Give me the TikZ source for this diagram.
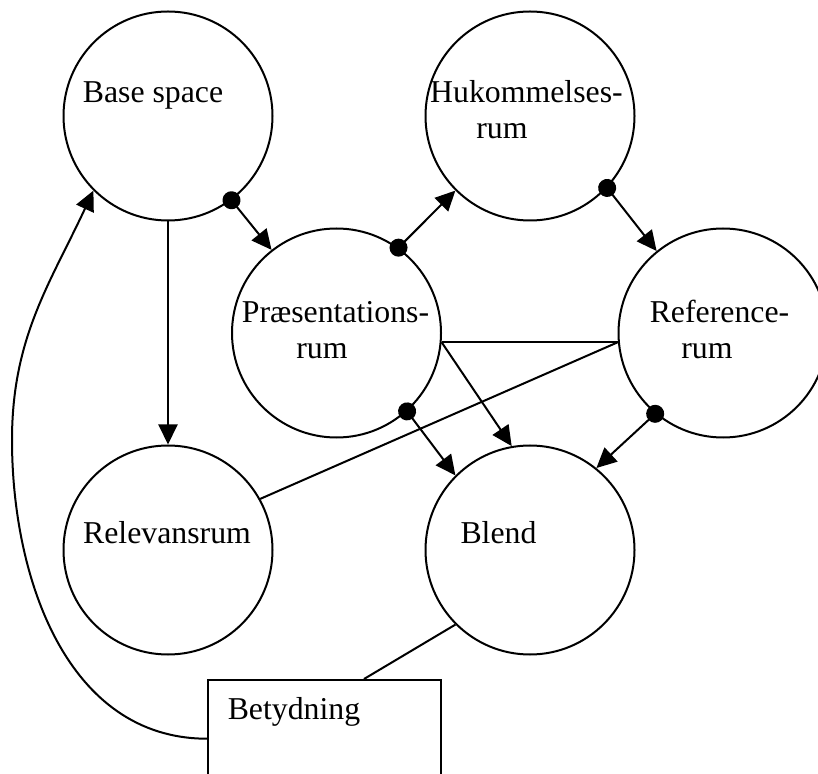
\documentclass[tikz,border=0pt]{standalone}
\usepackage{fontspec}
\setmainfont{Liberation Serif}
\usetikzlibrary{arrows.meta, positioning}

\begin{document}
\begin{tikzpicture}[
    x=0.5pt, y=-0.5pt,
    every node/.style={font=\fontsize{15.9}{18}\selectfont},
    space/.style={circle, draw, line width=1pt, minimum size=104.5pt, inner sep=0pt},
    txt/.style={align=center, inner sep=0pt},
    meaningbox/.style={rectangle, draw, line width=1pt, minimum width=116.5pt, minimum height=58.7pt, inner sep=0pt},
    arrow/.style={-{Triangle[length=10pt, width=9.5pt]}, line width=1pt},
    dotarrow/.style={{Circle[length=9pt]}-{Triangle[length=10pt, width=9.5pt]}, shorten <=-4.5pt, line width=1pt},
    plain/.style={line width=1pt}
]
\useasboundingbox (0,0) rectangle (818,774);
\clip (0,0) rectangle (818,774);

% mental spaces
\node[space] (base) at (168,116) {};
\node[space] (huk) at (530,116) {};
\node[space] (praes) at (336.5,333) {};
\node[space] (ref) at (723,333) {};
\node[space] (rel) at (168,550) {};
\node[space] (blend) at (530,550) {};
\node[meaningbox] (bet) at (324.5,738.7) {};

\node[txt] (base-txt) at ([shift={(-15,-21)}]base.center) {Base space};
\node[txt] (huk-txt) at ([shift={(-3.5,-6.5)}]huk.center) {Hukommelses-\\rum\hspace*{24.5pt}\mbox{}};
\node[txt] (praes-txt) at ([shift={(-1,-2.5)}]praes.center) {Præsentations-\\rum\hspace*{13.5pt}\mbox{}};
\node[txt] (ref-txt) at ([shift={(-3.5,-4)}]ref.center) {Reference-\\rum\hspace*{12.5pt}\mbox{}};
\node[txt] (rel-txt) at ([shift={(-1,-17)}]rel.center) {Relevansrum};
\node[txt] (blend-txt) at ([shift={(-31.5,-17)}]blend.center) {Blend};
\node[txt] (bet-txt) at ([shift={(87,33)}]bet.north west) {Betydning};

\coordinate (loop) at (12,440);

% connectors
\draw[dotarrow] (base.-53) -- (praes.128);
\draw[dotarrow] (praes.54) -- (huk.225);
\draw[dotarrow] (huk.-43) -- (ref.129);
\draw[arrow] (base.south) -- (rel.north);
\draw[dotarrow] (praes.-48) -- (blend.135.5);
\draw[arrow] (praes.-5.6) -- (blend.100.5);
\draw[plain] (praes.-5.6) -- (ref.185);
\draw[plain] (ref.185) -- (rel.29.5);
\draw[dotarrow] (ref.230) -- (blend.51);
\draw[plain] (blend.225) -- ([xshift=78.5pt]bet.north west);
\draw[arrow] (bet.west) to[out=180, in=-90] (loop) to[out=90, in=245] (base.225.8);

\end{tikzpicture}
\end{document}
